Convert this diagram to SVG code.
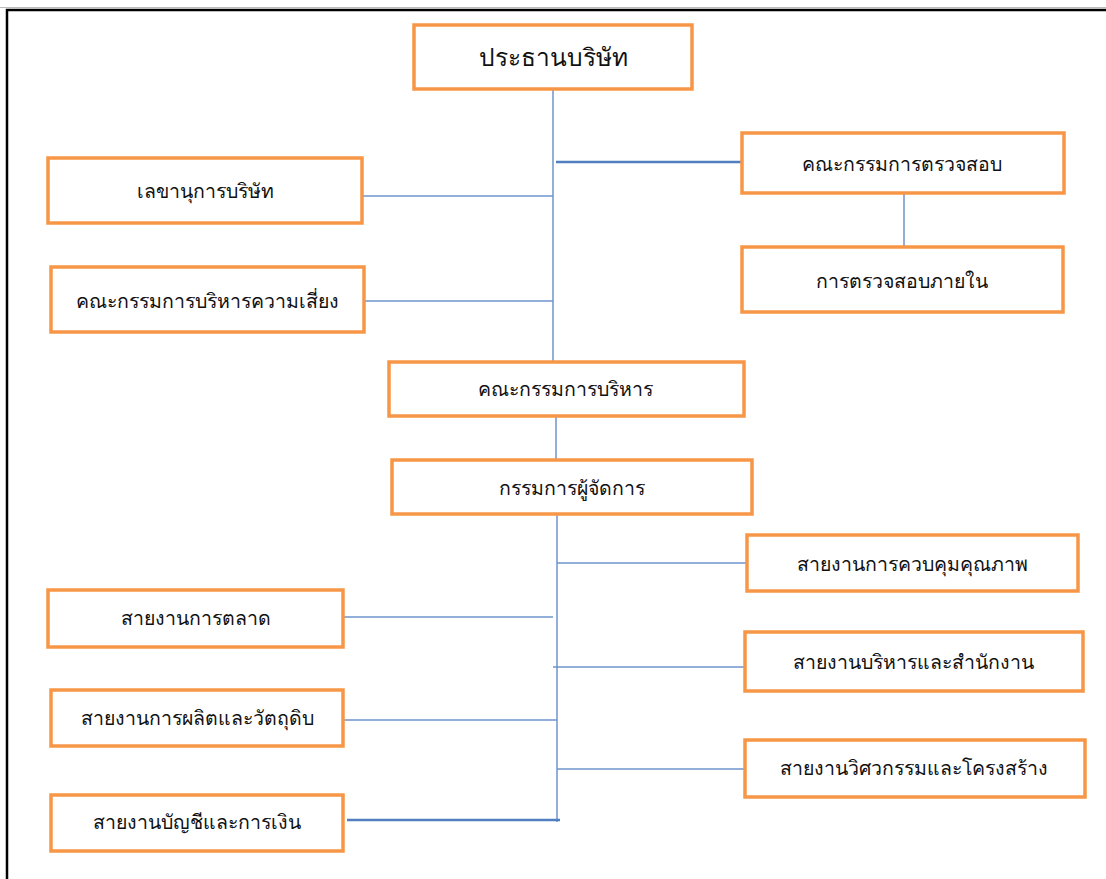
<svg xmlns="http://www.w3.org/2000/svg" width="1106" height="879" viewBox="0 0 1106 879">
<style>
.box{fill:#fff;stroke:#F79646;stroke-width:3.5}
.t{font-family:"Noto Sans","DejaVu Sans",sans-serif;font-size:19.5px;fill:#111;text-anchor:middle;dominant-baseline:central}
.tt{font-size:24.5px}
.ln{stroke:#6E95CC;stroke-width:1.5;fill:none}
.lnb{stroke:#4F7FC0;stroke-width:2.5;fill:none}
</style>
<rect x="0" y="0" width="1106" height="879" fill="#fff"/>
<line x1="0" y1="7.5" x2="1106" y2="7.5" stroke="#bbb" stroke-width="1"/>
<path d="M7 879 V10 H1106" fill="none" stroke="#000" stroke-width="2.5"/>
<g id="connectors">
<path class="ln" d="M553 89 V362"/>
<path class="lnb" d="M556 162 H742"/>
<path class="ln" d="M362 196 H553"/>
<path class="ln" d="M364 301 H553"/>
<path class="ln" d="M556 416 V460"/>
<path class="ln" d="M904 193 V247"/>
<path class="ln" d="M557 514 V822"/>
<path class="ln" d="M557 563 H747"/>
<path class="ln" d="M343 617 H553"/>
<path class="ln" d="M553 667 H745"/>
<path class="ln" d="M343 720 H557"/>
<path class="ln" d="M557 769 H745"/>
<path class="lnb" d="M347 820 H560"/>
</g>
<g id="n1"><rect class="box" x="414" y="25" width="278" height="64"/><text class="t tt" x="553" y="56">ประธานบริษัท</text></g>
<g id="n2"><rect class="box" x="48" y="158" width="314" height="65"/><text class="t" x="205" y="190">เลขานุการบริษัท</text></g>
<g id="n3"><rect class="box" x="51" y="267" width="313" height="65"/><text class="t" x="207" y="300">คณะกรรมการบริหารความเสี่ยง</text></g>
<g id="n4"><rect class="box" x="742" y="133" width="322" height="60"/><text class="t" x="902" y="163">คณะกรรมการตรวจสอบ</text></g>
<g id="n5"><rect class="box" x="742" y="247" width="321" height="65"/><text class="t" x="902" y="280">การตรวจสอบภายใน</text></g>
<g id="n6"><rect class="box" x="389" y="362" width="355" height="54"/><text class="t" x="565" y="388">คณะกรรมการบริหาร</text></g>
<g id="n7"><rect class="box" x="392" y="460" width="360" height="54"/><text class="t" x="572" y="487">กรรมการผู้จัดการ</text></g>
<g id="n8"><rect class="box" x="747" y="535" width="331" height="56"/><text class="t" x="912" y="563">สายงานการควบคุมคุณภาพ</text></g>
<g id="n9"><rect class="box" x="48" y="590" width="295" height="57"/><text class="t" x="196" y="617">สายงานการตลาด</text></g>
<g id="n10"><rect class="box" x="745" y="632" width="338" height="59"/><text class="t" x="913" y="661">สายงานบริหารและสำนักงาน</text></g>
<g id="n11"><rect class="box" x="51" y="690" width="292" height="56"/><text class="t" x="197" y="717">สายงานการผลิตและวัตถุดิบ</text></g>
<g id="n12"><rect class="box" x="745" y="740" width="340" height="57"/><text class="t" x="914" y="767">สายงานวิศวกรรมและโครงสร้าง</text></g>
<g id="n13"><rect class="box" x="51" y="795" width="292" height="56"/><text class="t" x="197" y="821">สายงานบัญชีและการเงิน</text></g>
</svg>
